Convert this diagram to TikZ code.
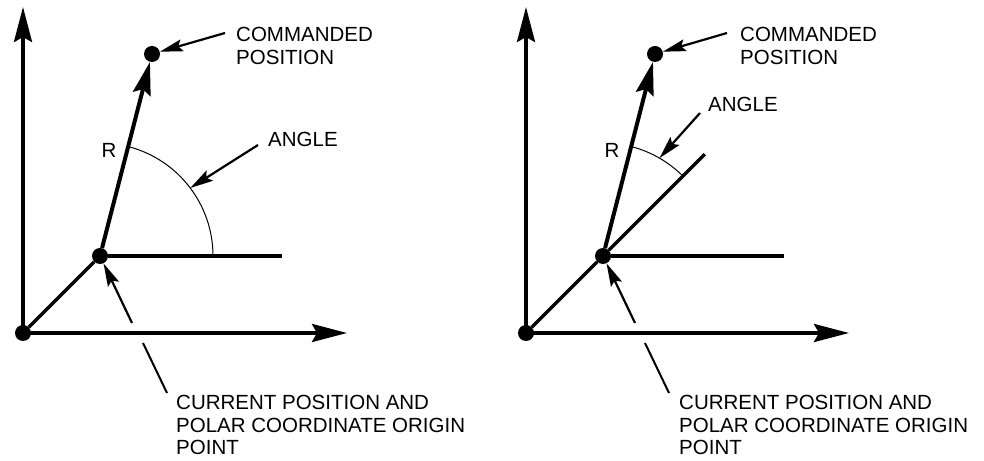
\documentclass[tikz,border=0pt]{standalone}
\usepackage{fontspec}
\setmainfont{Liberation Sans}
\usepackage{tikz}
\usetikzlibrary{arrows.meta}
\tikzset{
  axis/.style={line width=3.5pt, -{Stealth[length=35pt,width=18pt,inset=5pt]}},
  vec/.style={line width=4pt, -{Stealth[length=33pt,width=18pt,inset=5pt]}},
  ray/.style={line width=3.5pt},
  pointer/.style={line width=2.2pt, -{Stealth[length=23pt,width=12pt,inset=4pt]}},
  leader/.style={line width=2pt},
  anglearc/.style={line width=1pt},
  dot/.style={circle, fill, inner sep=0pt, minimum size=16pt},
  caption/.style={anchor=north west, inner sep=0pt, align=left, font=\fontsize{20.5}{22.5}\selectfont}}

\begin{document}
\begin{tikzpicture}[x=1pt, y=1pt]
	\useasboundingbox (0,0) rectangle (984,460);
	% left: angle from the horizontal
	\node[dot] (o1) at (23,127) {};
	\node[dot] (c1) at (100,204) {};
	\node[dot] (p1) at (152,406) {};
	\coordinate (yt1) at (23,453);
	\coordinate (xt1) at (347,127);
	\coordinate (h1) at (282,204);
	\coordinate (a1) at ([shift={(37:113)}]c1);
	\coordinate (ca1) at (225,427);
	\coordinate (aa1) at (258,315);
	\coordinate (pa1) at (132,137);
	\coordinate (la1) at (143,117);
	\coordinate (lb1) at (167,67);
	\draw [axis] (o1.center) -- (yt1);
	\draw [axis] (o1.center) -- (xt1);
	\draw [ray] (o1) -- (c1);
	\draw [ray] (c1) -- (h1);
	\draw [anglearc] ([shift={(0:113)}]c1.center) arc [start angle=0, end angle=75, radius=113];
	\draw [vec] (c1) -- (p1);
	\draw [pointer] (ca1) -- (p1);
	\draw [pointer] (aa1) -- (a1);
	\draw [pointer] (pa1) -- (c1);
	\draw [leader] (la1) -- (lb1);
	\node [font=\fontsize{20.5}{22.5}\selectfont] (r1) at (109,310) {R};
	\node [caption] (cmd1) at (236,433) {COMMANDED\\POSITION};
	\node [caption] (ang1) at (268,328) {ANGLE};
	\node [caption] (cur1) at (176,65) {CURRENT POSITION AND\\POLAR COORDINATE ORIGIN\\POINT};
	% right: angle from the previous direction
	\node[dot] (o2) at (526,127) {};
	\node[dot] (c2) at (603,204) {};
	\node[dot] (p2) at (655,406) {};
	\coordinate (yt2) at (526,453);
	\coordinate (xt2) at (849,127);
	\coordinate (h2) at (784,204);
	\coordinate (e2) at ([shift={(45:144)}]c2);
	\coordinate (a2) at ([shift={(60:113)}]c2);
	\coordinate (ca2) at (727,427);
	\coordinate (aa2) at (700,347);
	\coordinate (pa2) at (635,137);
	\coordinate (la2) at (645,117);
	\coordinate (lb2) at (669,67);
	\draw [axis] (o2.center) -- (yt2);
	\draw [axis] (o2.center) -- (xt2);
	\draw [ray] (o2) -- (c2);
	\draw [ray] (c2) -- (h2);
	\draw [ray] (c2) -- (e2);
	\draw [anglearc] ([shift={(45:113)}]c2.center) arc [start angle=45, end angle=75, radius=113];
	\draw [vec] (c2) -- (p2);
	\draw [pointer] (ca2) -- (p2);
	\draw [pointer] (aa2) -- (a2);
	\draw [pointer] (pa2) -- (c2);
	\draw [leader] (la2) -- (lb2);
	\node [font=\fontsize{20.5}{22.5}\selectfont] (r2) at (612,310) {R};
	\node [caption] (cmd2) at (740,433) {COMMANDED\\POSITION};
	\node [caption] (ang2) at (708,363) {ANGLE};
	\node [caption] (cur2) at (679,65) {CURRENT POSITION AND\\POLAR COORDINATE ORIGIN\\POINT};
\end{tikzpicture}
\end{document}
